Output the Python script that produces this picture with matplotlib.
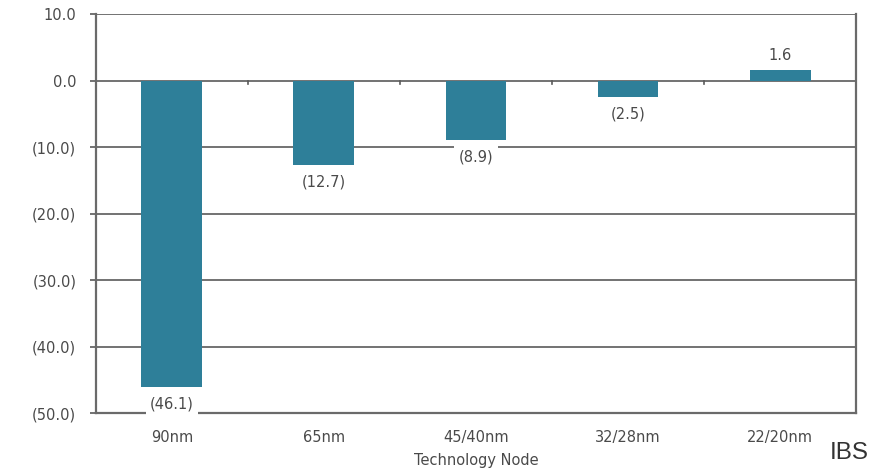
import matplotlib
matplotlib.use('Agg')
import matplotlib.pyplot as plt
import numpy as np

nodes = ['90nm', '65nm', '45/40nm', '32/28nm', '22/20nm']
values = [-46.1, -12.7, -8.9, -2.5, 1.6]
yticks = [10, 0, -10, -20, -30, -40, -50]

plt.rcParams['font.family'] = ['DejaVu Sans']

def fmt(v):
    if v < 0:
        return '(%.1f)' % abs(v)
    return '%.1f' % v

fs = 10.5
txt = '#4a4a4a'

fig = plt.figure(figsize=(8.79, 4.72), dpi=100)
ax = fig.add_axes([0.109, 0.125, 0.865, 0.845])

x = np.arange(len(nodes))
ax.bar(x, values, width=0.4, color='#2e7f99', zorder=3)

for v in yticks:
    ax.axhline(v, color='#5a5a5a', lw=1.2, zorder=1)

ax.set_xlim(-0.5, len(nodes) - 0.5)
ax.set_ylim(-50, 10)
ax.set_yticks(yticks)
ax.set_yticklabels([fmt(v) for v in yticks], fontsize=fs, color=txt)
ax.set_xticks(x)
ax.set_xticklabels(nodes, fontsize=fs, color=txt)
ax.tick_params(axis='x', length=0, pad=12)
ax.tick_params(axis='y', length=4, width=1.2, color='#5a5a5a', direction='out', pad=10)

# category boundary ticks on the zero line
for b in x[:-1] + 0.5:
    ax.plot([b, b], [0, -0.5], color='#5a5a5a', lw=1.2, zorder=2)

for s in ['left', 'bottom', 'right']:
    ax.spines[s].set_color('#6a6a6a')
    ax.spines[s].set_linewidth(1.6)
ax.spines['top'].set_visible(False)

for xi, v in zip(x, values):
    if v < 0:
        ax.text(xi, v - 1.4, fmt(v), ha='center', va='top', fontsize=fs, color=txt,
                bbox=dict(facecolor='white', edgecolor='none', pad=3), zorder=4)
    else:
        ax.text(xi, v + 1.0, fmt(v), ha='center', va='bottom', fontsize=fs, color=txt, zorder=4)

ax.set_xlabel('Technology Node', fontsize=fs, color=txt, labelpad=6)
fig.text(0.944, 0.018, 'IBS', fontsize=17.5, color='#333333', ha='left', va='bottom',
         family='Liberation Sans')

fig.savefig('out.png', dpi=100)
